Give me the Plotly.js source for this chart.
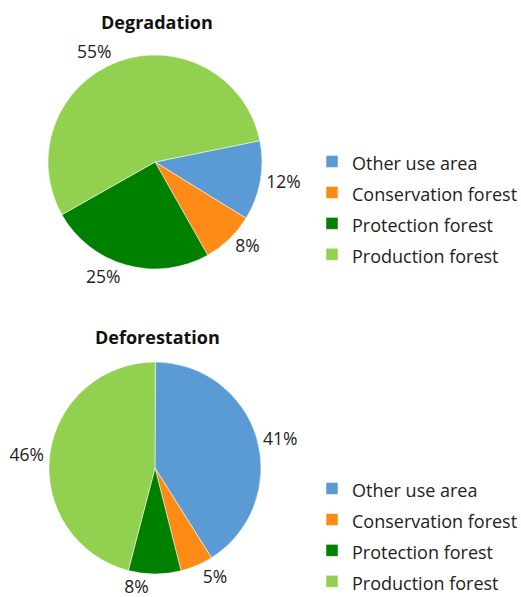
<!DOCTYPE html>
<html>
<head>
<meta charset="utf-8">
<script src="https://cdn.plot.ly/plotly-3.0.1.min.js"></script>
<style>html,body{margin:0;padding:0;background:#fff;}#chart{width:521px;height:597px;}</style>
</head>
<body>
<div id="chart"></div>
<script>
const categories = ["Other use area", "Conservation forest", "Protection forest", "Production forest"];
const degradationValues = [12, 8, 25, 55];
const deforestationValues = [41, 5, 8, 46];
const chartTitles = ["Degradation", "Deforestation"];
const sliceColors = ["#5B9BD5", "#FF8B17", "#008000", "#92D050"];

const W = 521, H = 597;
const FONT = "Open Sans, Noto Sans, sans-serif";
// distinct markup per legend so each pie keeps its own legend entries
const legendLabels1 = categories.map(c => '<span style="font-size:18px">' + c + '</span>');
const legendLabels2 = categories.map(c => '<span style="font-size:18px;">' + c + '</span>');

function pieTrace(labels, values, dom, rot, legendId) {
  return {
    type: "pie",
    labels: labels,
    values: values,
    sort: false,
    direction: "clockwise",
    rotation: rot,
    marker: {colors: sliceColors, line: {color: "#ffffff", width: 0.5}},
    textposition: "outside",
    texttemplate: "%{percent:.0%}",
    textfont: {family: FONT, size: 17.5, color: "#222"},
    outsidetextfont: {family: FONT, size: 17.5, color: "#222"},
    domain: dom,
    legend: legendId,
    hoverinfo: "label+percent"
  };
}

const data = [
  pieTrace(legendLabels1, degradationValues, {x: [48 / W, 262 / W], y: [1 - 269 / H, 1 - 55 / H]}, 78.5, "legend"),
  pieTrace(legendLabels2, deforestationValues, {x: [49 / W, 261 / W], y: [1 - 574 / H, 1 - 362 / H]}, 0.2, "legend2")
];

const legendBase = {
  font: {family: FONT, size: 21.5, color: "#222"},
  bgcolor: "rgba(0,0,0,0)",
  xanchor: "left",
  yanchor: "top",
  itemclick: false,
  itemdoubleclick: false
};

const layout = {
  width: W,
  height: H,
  margin: {l: 0, r: 0, t: 0, b: 0, autoexpand: false},
  paper_bgcolor: "#ffffff",
  showlegend: true,
  legend: Object.assign({}, legendBase, {x: 312 / W, y: 1 - 141 / H}),
  legend2: Object.assign({}, legendBase, {x: 312 / W, y: 1 - 468 / H}),
  annotations: [
    {text: "<b>" + chartTitles[0] + "</b>", x: 157 / W, y: 1 - 22 / H, xref: "paper", yref: "paper", xanchor: "center", yanchor: "middle", showarrow: false, font: {family: FONT, size: 18, color: "#111"}},
    {text: "<b>" + chartTitles[1] + "</b>", x: 157 / W, y: 1 - 337 / H, xref: "paper", yref: "paper", xanchor: "center", yanchor: "middle", showarrow: false, font: {family: FONT, size: 18, color: "#111"}}
  ]
};

Plotly.newPlot("chart", data, layout, {displayModeBar: false, staticPlot: true});
</script>
</body>
</html>
